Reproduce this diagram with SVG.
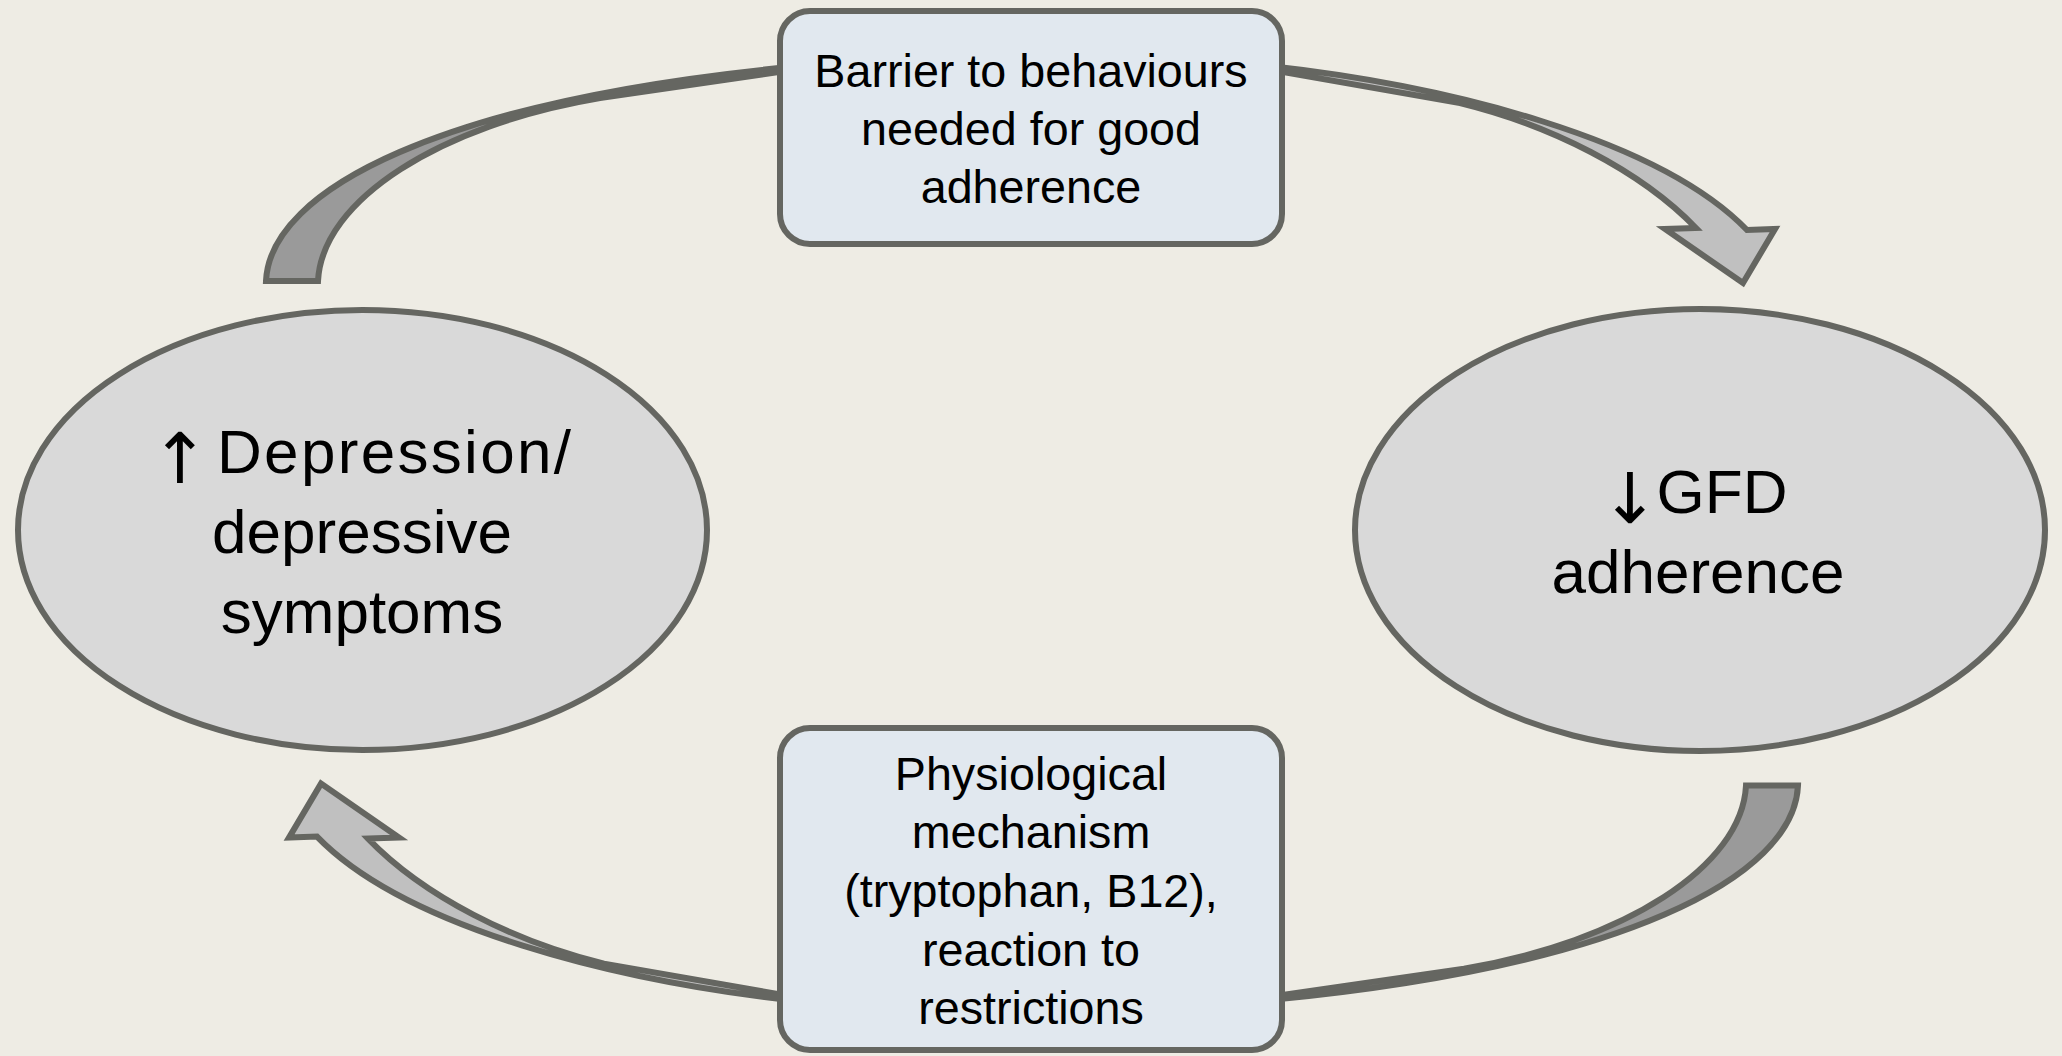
<svg xmlns="http://www.w3.org/2000/svg" width="2062" height="1056" viewBox="0 0 2062 1056">
<style>
.bg{fill:#eeece4}
.ell{fill:#d9d9d9;stroke:#656661;stroke-width:6}
.box{fill:#e1e8ef;stroke:#656661;stroke-width:6}
.dark{fill:#9a9a9a;stroke:#656661;stroke-width:6;stroke-linejoin:miter}
.light{fill:#c0c0c0;stroke:#656661;stroke-width:6;stroke-linejoin:miter}
.t{font-family:"Liberation Sans",Arial,sans-serif;fill:#000;text-anchor:middle}
.big{font-size:62px}
.small{font-size:46.7px}
.arr{font-family:"DejaVu Sans",sans-serif;font-size:70px;fill:#000;text-anchor:middle}
</style>
<rect class="bg" x="0" y="0" width="2062" height="1056"/>
<g id="connectors">
  <g id="arrow-top">
    <path class="dark" d="M266,281 C270,190 440,100 800,66 L800,69 L600,98 C440,125 322,200 318,281 Z"/>
    <path class="light" d="M1260,65 C1450,85 1660,140 1747,230 L1775,229 L1743,283 L1665,229 L1696,228 C1640,170 1550,125 1460,103 L1260,68 Z"/>
  </g>
  <g id="arrow-bottom" transform="rotate(180 1032 533.3)">
    <path class="dark" d="M266,281 C270,190 440,100 800,66 L800,69 L600,98 C440,125 322,200 318,281 Z"/>
    <path class="light" d="M1260,65 C1450,85 1660,140 1747,230 L1775,229 L1743,283 L1665,229 L1696,228 C1640,170 1550,125 1460,103 L1260,68 Z"/>
  </g>
</g>
<g id="node-depression">
  <ellipse class="ell" cx="362.5" cy="530" rx="344.5" ry="220"/>
  <text class="arr" x="180" y="483">↑</text>
  <text class="t big" x="217" y="473" style="text-anchor:start" textLength="354" lengthAdjust="spacing">Depression/</text>
  <text class="t big" x="362" y="553">depressive</text>
  <text class="t big" x="362" y="633">symptoms</text>
</g>
<g id="node-gfd">
  <ellipse class="ell" cx="1700" cy="530" rx="345" ry="221"/>
  <text class="arr" x="1630" y="523">↓</text>
  <text class="t big" x="1722" y="513">GFD</text>
  <text class="t big" x="1698" y="593">adherence</text>
</g>
<g id="node-barrier">
  <rect class="box" x="780" y="11" width="502" height="233" rx="30" ry="30"/>
  <text class="t small" x="1031" y="87">Barrier to behaviours</text>
  <text class="t small" x="1031" y="145">needed for good</text>
  <text class="t small" x="1031" y="203">adherence</text>
</g>
<g id="node-physiological">
  <rect class="box" x="780" y="728" width="502" height="322" rx="30" ry="30"/>
  <text class="t small" x="1031" y="790">Physiological</text>
  <text class="t small" x="1031" y="848">mechanism</text>
  <text class="t small" x="1031" y="907">(tryptophan, B12),</text>
  <text class="t small" x="1031" y="966">reaction to</text>
  <text class="t small" x="1031" y="1024">restrictions</text>
</g>
</svg>
